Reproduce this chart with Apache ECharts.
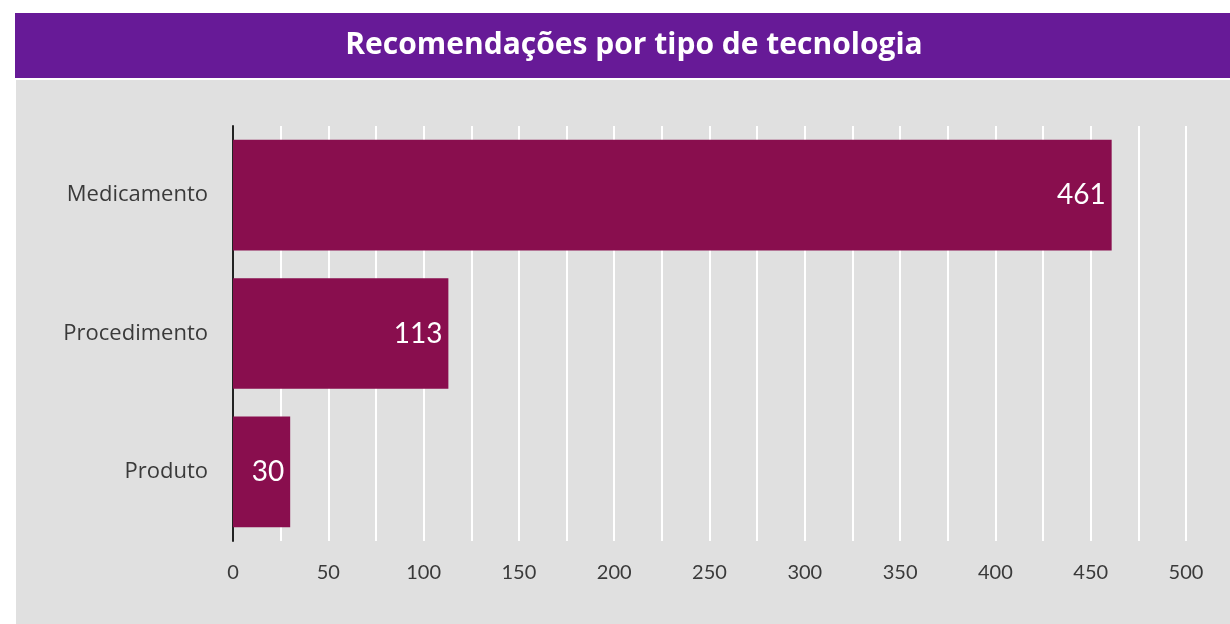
<html>
<head>
    <meta charset="utf-8">
    <title>Recomendações por tipo de tecnologia</title>
    <script src="https://cdn.jsdelivr.net/npm/echarts@6/dist/echarts.min.js"></script>
    <style>
        html, body, #main {
            margin: 0;
            padding: 0;
            width: 1230px;
            height: 624px;
            background: #fff;
        }
    </style>
</head>
<body>
<div id="main"></div>
<script>
    // data
    var categories = ['Medicamento', 'Procedimento', 'Produto'];
    var values = [461, 113, 30];
    var xTicks = [0, 50, 100, 150, 200, 250, 300, 350, 400, 450, 500];

    var titleText = 'Recomendações por tipo de tecnologia';
    var font = 'Lato, "Open Sans", sans-serif';
    var wideFont = '"Open Sans", Lato, sans-serif';

    var chart = echarts.init(document.getElementById('main'));

    var option = {
        animation: false,
        graphic: [
            // gray panel
            { type: 'rect', z: -10, shape: { x: 16, y: 80, width: 1214, height: 544 }, style: { fill: '#e0e0e0' } },
            // purple header band
            { type: 'rect', z: -10, shape: { x: 15, y: 13, width: 1215, height: 65 }, style: { fill: '#671a97' } }
        ],
        title: {
            text: titleText,
            left: 629,
            textAlign: 'center',
            top: 25,
            textStyle: {
                color: '#fff',
                fontFamily: wideFont,
                fontWeight: 'bold',
                fontSize: 30
            }
        },
        grid: {
            left: 233,
            right: 44,
            top: 126,
            bottom: 83,
            containLabel: false
        },
        xAxis: {
            type: 'value',
            min: 0,
            max: 500,
            interval: 25,
            axisLine: { show: false },
            axisTick: { show: false },
            splitLine: { show: true, lineStyle: { color: '#ffffff', width: 2 } },
            axisLabel: {
                margin: 22,
                color: '#3a3a3a',
                fontFamily: font,
                fontSize: 20,
                formatter: function (v) {
                    return xTicks.indexOf(v) >= 0 ? String(v) : '';
                }
            }
        },
        yAxis: {
            type: 'category',
            data: categories,
            inverse: true,
            axisLine: { show: true, lineStyle: { color: '#222', width: 2 } },
            axisTick: { show: false },
            axisLabel: {
                margin: 25,
                color: '#3a3a3a',
                fontFamily: wideFont,
                fontSize: 22
            }
        },
        series: [{
            type: 'bar',
            data: values,
            barCategoryGap: '20%',
            itemStyle: { color: '#890e4e' },
            z: 3,
            label: {
                show: true,
                position: 'insideRight',
                distance: 6,
                color: '#fff',
                fontFamily: font,
                fontSize: 28
            }
        }]
    };

    chart.setOption(option);
</script>
</body>
</html>
